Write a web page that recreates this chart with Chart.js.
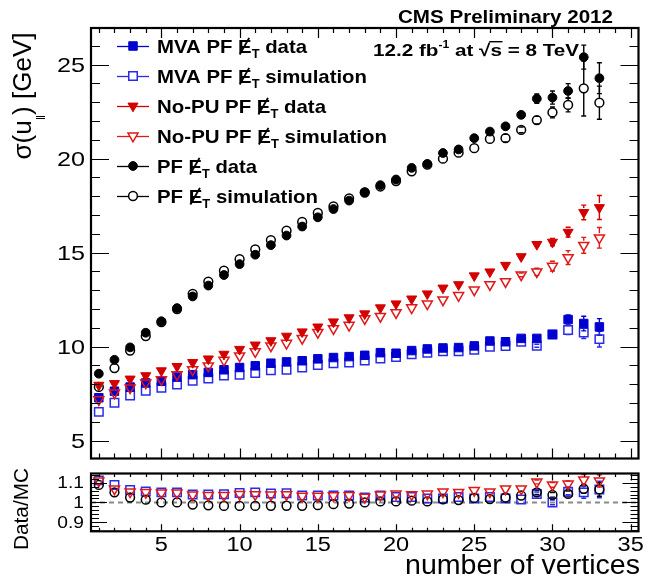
<!DOCTYPE html>
<html><head><meta charset="utf-8">
<script src="https://cdn.jsdelivr.net/npm/chart.js@4/dist/chart.umd.min.js"></script>
<style>
html,body{margin:0;padding:0;background:#fff;}
#wrap{position:relative;width:646px;height:582px;background:#fff;}
canvas{position:absolute;left:0;}
</style></head><body>
<div id="wrap">
<canvas id="main" width="646" height="466" style="top:0px"></canvas>
<canvas id="ratio" width="646" height="116" style="top:466px"></canvas>
</div>
<script>
// ---------------- DATA ----------------
const vertices = [1,2,3,4,5,6,7,8,9,10,11,12,13,14,15,16,17,18,19,20,21,22,23,24,25,26,27,28,29,30,31,32,33];

const mvaData = [7.28,7.63,7.85,8.07,8.16,8.38,8.51,8.63,8.77,8.89,8.98,9.12,9.19,9.25,9.35,9.42,9.47,9.54,9.68,9.65,9.79,9.88,9.93,9.95,10.04,10.30,10.26,10.44,10.44,10.65,11.44,11.23,11.05];
const mvaSim  = [6.53,7.02,7.40,7.65,7.81,7.98,8.19,8.30,8.46,8.51,8.60,8.74,8.77,8.89,9.02,9.11,9.16,9.26,9.37,9.45,9.60,9.68,9.75,9.75,9.84,10.00,10.04,10.26,10.05,10.65,10.88,10.75,10.40];
const nopuData = [7.95,8.04,8.28,8.46,8.72,8.95,9.16,9.35,9.60,9.86,10.09,10.32,10.56,10.79,11.05,11.32,11.54,11.75,12.07,12.28,12.54,12.81,13.12,13.30,13.77,13.98,14.33,14.79,15.44,15.56,16.09,17.14,17.40];
const nopuSim  = [7.18,7.54,7.81,8.07,8.25,8.51,8.77,8.98,9.28,9.51,9.74,10.04,10.18,10.44,10.76,10.96,11.14,11.49,11.61,11.81,12.07,12.28,12.49,12.72,13.02,13.30,13.46,13.82,13.98,14.28,14.74,15.39,15.79];
const pfData = [8.56,9.30,9.96,10.74,11.35,12.05,12.67,13.25,13.81,14.39,14.89,15.40,15.91,16.39,16.88,17.32,17.77,18.21,18.59,18.89,19.51,19.72,20.30,20.49,21.09,21.44,21.72,22.33,23.19,23.25,23.60,25.40,24.28];
const pfSim  = [7.86,8.86,9.79,10.56,11.30,12.00,12.81,13.46,14.04,14.65,15.17,15.67,16.17,16.63,17.11,17.46,17.89,18.20,18.52,18.81,19.33,19.68,20.00,20.32,20.56,21.05,21.09,21.53,22.05,22.46,22.86,23.74,22.98];

// statistical uncertainties (only visible at high vertex counts)
const mvaDataErr  = [0,0,0,0,0,0,0,0,0,0,0,0,0,0,0,0,0,0,0,0,0,0,0,0,0,0,0,0,0.08,0.12,0.24,0.39,0.44];
const mvaSimErr   = [0,0,0,0,0,0,0,0,0,0,0,0,0,0,0,0,0,0,0,0,0,0,0,0,0,0,0,0,0.08,0.12,0.24,0.32,0.42];
const nopuDataErr = [0,0,0,0,0,0,0,0,0,0,0,0,0,0,0,0,0,0,0,0,0,0,0,0,0,0,0,0.08,0.10,0.19,0.26,0.39,0.64];
const nopuSimErr  = [0,0,0,0,0,0,0,0,0,0,0,0,0,0,0,0,0,0,0,0,0,0,0,0,0,0,0,0.10,0.19,0.26,0.37,0.42,0.55];
const pfDataErr   = [0,0,0,0,0,0,0,0,0,0,0,0,0,0,0,0,0,0,0,0,0,0,0,0,0,0,0.10,0.12,0.25,0.35,0.39,0.64,0.82];
const pfSimErr    = [0,0,0,0,0,0,0,0,0,0,0,0,0,0,0,0,0,0,0,0,0,0,0,0,0,0,0.20,0.15,0.20,0.29,0.37,1.47,0.88];

// Data/MC ratios
const ratioMva  = [1.112,1.089,1.063,1.055,1.051,1.051,1.040,1.040,1.041,1.048,1.051,1.045,1.046,1.035,1.035,1.035,1.035,1.025,1.035,1.028,1.028,1.020,1.020,1.028,1.020,1.028,1.020,1.015,1.043,1.000,1.054,1.051,1.066];
const ratioNopu = [1.109,1.069,1.054,1.051,1.048,1.048,1.038,1.035,1.035,1.041,1.040,1.038,1.040,1.032,1.032,1.034,1.035,1.027,1.038,1.043,1.040,1.043,1.054,1.051,1.061,1.054,1.069,1.069,1.104,1.089,1.094,1.115,1.109];
const ratioPf   = [1.089,1.051,1.025,1.014,1.000,1.000,0.989,0.985,0.982,0.982,0.982,0.983,0.983,0.983,0.986,0.991,0.994,1.000,1.005,1.005,1.009,1.005,1.015,1.012,1.023,1.017,1.025,1.035,1.051,1.038,1.043,1.069,1.066];
const ratioMvaErr  = [0,0,0,0,0,0,0,0,0,0,0,0,0,0,0,0,0,0,0,0,0,0,0,0,0,0,0,0,0.01,0.012,0.015,0.030,0.042];
const ratioNopuErr = [0,0,0,0,0,0,0,0,0,0,0,0,0,0,0,0,0,0,0,0,0,0,0,0,0,0,0,0,0.01,0.012,0.015,0.027,0.031];
const ratioPfErr   = [0,0,0,0,0,0,0,0,0,0,0,0,0,0,0,0,0,0,0,0,0,0,0,0,0,0,0,0,0.01,0.012,0.015,0.023,0.035];

const yTickLabels = [5,10,15,20,25];
const xTickLabels = [5,10,15,20,25,30,35];
const ratioTickLabels = [0.9,1,1.1];
const legendNames = [
  ['MVA PF ', ' data'],
  ['MVA PF ', ' simulation'],
  ['No-PU PF ', ' data'],
  ['No-PU PF ', ' simulation'],
  ['PF ', ' data'],
  ['PF ', ' simulation']
];
const xTitle = 'number of vertices';
const ratioTitle = 'Data/MC';
const cmsLabel = 'CMS Preliminary 2012';

// ---------------- STYLE ----------------
const F = '"Liberation Sans", Arimo, Arial, Helvetica, sans-serif';
const BLUE = '#0000d0', BLUE_O = '#2a2ae8', RED = '#d40000', RED_O = '#e01818', BLACK = '#000';

const styles = [
  {color:BLUE, ec:BLUE, ps:'rect', rot:0, r:6.0, filled:true, gap:4.5},
  {color:BLUE_O, ec:BLUE_O, ps:'rect', rot:0, r:6.0, filled:false, gap:4.5},
  {color:RED, ec:RED, ps:'triangle', rot:180, r:5.8, filled:true, gap:4.5},
  {color:RED_O, ec:RED_O, ps:'triangle', rot:180, r:5.8, filled:false, gap:4.5},
  {color:BLACK, ec:BLACK, ps:'circle', rot:0, r:4.4, filled:true, gap:4.4},
  {color:BLACK, ec:BLACK, ps:'circle', rot:0, r:4.4, filled:false, gap:4.4}
];

function pts(ys){ return vertices.map((x,i)=>({x:x, y:ys[i]})); }
function mkDs(label, ys, errs, st, order){
  return {
    label, data: pts(ys), errs, errColor: st.ec, gap: st.gap,
    showLine:false, order,
    pointStyle: st.ps, rotation: st.rot, pointRadius: st.r, pointHoverRadius: st.r,
    backgroundColor: st.filled ? st.color : 'rgba(0,0,0,0)',
    borderColor: st.color, borderWidth: st.filled ? 1 : 1.5
  };
}

// ---------------- HELPERS ----------------
function richDraw(ctx, parts, x, y, o){
  let W = 0;
  for (const p of parts){ ctx.font = p.f; p.w = ctx.measureText(p.t).width; W += p.w; }
  const sx = o.width ? o.width / W : (o.sx || 1);
  ctx.save();
  ctx.translate(x, y);
  if (o.rot) ctx.rotate(o.rot);
  ctx.scale(sx, o.sy || 1);
  let cx = o.align === 'right' ? -W : (o.align === 'center' ? -W/2 : 0);
  ctx.textAlign = 'left'; ctx.textBaseline = 'alphabetic';
  ctx.fillStyle = o.color || '#000'; ctx.strokeStyle = o.color || '#000';
  for (const p of parts){
    ctx.font = p.f;
    ctx.fillText(p.t, cx, p.dy || 0);
    if (p.slash){
      ctx.lineWidth = 1.7;
      ctx.beginPath();
      ctx.moveTo(cx + 0.12*p.w, 1.5);
      ctx.lineTo(cx + 0.82*p.w, -p.cap - 1.5);
      ctx.stroke();
    }
    if (p.over){
      ctx.lineWidth = 1.4;
      ctx.beginPath();
      ctx.moveTo(cx - 1, -p.cap - 1);
      ctx.lineTo(cx + p.w + 0.5, -p.cap - 1);
      ctx.stroke();
    }
    cx += p.w;
  }
  ctx.restore();
}

function drawFrameTicks(ctx, area, xs, ys, xMinor, xMajorEvery, yVals, yMajorTest, lens){
  ctx.save();
  ctx.strokeStyle = '#000';
  ctx.lineWidth = 1.2;
  ctx.beginPath();
  for (const v of xMinor){
    const px = Math.round(xs.getPixelForValue(v)) + 0.5;
    const L = (v % xMajorEvery === 0) ? lens.xMaj : lens.xMin;
    ctx.moveTo(px, area.bottom); ctx.lineTo(px, area.bottom - L);
    ctx.moveTo(px, area.top); ctx.lineTo(px, area.top + L);
  }
  for (const v of yVals){
    const py = Math.round(ys.getPixelForValue(v)) + 0.5;
    const L = yMajorTest(v) ? lens.yMaj : lens.yMin;
    ctx.moveTo(area.left, py); ctx.lineTo(area.left + L, py);
    ctx.moveTo(area.right, py); ctx.lineTo(area.right - L, py);
  }
  ctx.stroke();
  ctx.lineWidth = 2.2;
  ctx.strokeRect(area.left, area.top, area.right - area.left, area.bottom - area.top);
  ctx.restore();
}

const errPlugin = {
  id: 'errbars',
  beforeDatasetsDraw(chart){
    const ctx = chart.ctx, ys = chart.scales.y;
    chart.data.datasets.forEach((d, di)=>{
      if (!d.errs) return;
      const meta = chart.getDatasetMeta(di);
      ctx.save();
      ctx.strokeStyle = d.errColor; ctx.lineWidth = 1.4;
      meta.data.forEach((pt, i)=>{
        const e = d.errs[i]; if (!e) return;
        const v = d.data[i].y;
        const y1 = ys.getPixelForValue(v + e), y2 = ys.getPixelForValue(v - e);
        const x = pt.x, r = d.gap;
        ctx.beginPath();
        if (pt.y - r > y1){ ctx.moveTo(x, pt.y - r); ctx.lineTo(x, y1); }
        if (pt.y + r < y2){ ctx.moveTo(x, pt.y + r); ctx.lineTo(x, y2); }
        ctx.moveTo(x - 2.5, y1); ctx.lineTo(x + 2.5, y1);
        ctx.moveTo(x - 2.5, y2); ctx.lineTo(x + 2.5, y2);
        ctx.stroke();
      });
      ctx.restore();
    });
  }
};

const minorX = []; for (let k = 1; k <= 35; k++) minorX.push(k);

// ---------------- MAIN CHART ----------------
const mainDecor = {
  id: 'mainDecor',
  afterDatasetsDraw(chart){
    const ctx = chart.ctx, a = chart.chartArea, xs = chart.scales.x, ys = chart.scales.y;
    const yv = []; for (let k = 5; k <= 26; k++) yv.push(k);
    drawFrameTicks(ctx, a, xs, ys, minorX, 5, yv, v => v % 5 === 0, {xMaj:10, xMin:5, yMaj:18, yMin:9});
  },
  afterDraw(chart){
    const ctx = chart.ctx, ys = chart.scales.y;
    // y tick labels
    for (const v of yTickLabels){
      const py = ys.getPixelForValue(v);
      richDraw(ctx, [{t:String(v), f:'21px ' + F}], 85, py + 7.5, {align:'right', sx:1.2});
    }
    // y title  sigma(u_||) [GeV]
    richDraw(ctx, [
      {t:'σ(u', f:'26px ' + F},
      {t:'‖', f:'13px ' + F, dy:14},
      {t:') [GeV]', f:'26px ' + F}
    ], 31, 96, {align:'center', rot:-Math.PI/2, width:127});
    // CMS label
    richDraw(ctx, [{t:cmsLabel, f:'bold 18px ' + F}], 398, 22.5, {width:215});
    // lumi label
    richDraw(ctx, [
      {t:'12.2 fb', f:'bold 17px ' + F},
      {t:'-1', f:'bold 10px ' + F, dy:-7.5},
      {t:' at ', f:'bold 17px ' + F},
      {t:'√', f:'bold 17px ' + F},
      {t:'s', f:'bold 17px ' + F, over:true, cap:13},
      {t:' = 8 TeV', f:'bold 17px ' + F}
    ], 373, 55.7, {width:206});
    // legend
    const lw = [150, 210, 169, 230, 100, 161];
    const ly = [46, 76, 106, 136, 166, 196];
    for (let i = 0; i < 6; i++){
      const st = styles[i];
      ctx.save();
      ctx.strokeStyle = st.color; ctx.lineWidth = 1.3;
      ctx.beginPath(); ctx.moveTo(117, ly[i] + 0.5); ctx.lineTo(149, ly[i] + 0.5); ctx.stroke();
      ctx.fillStyle = st.filled ? st.color : '#fff';
      ctx.strokeStyle = st.color; ctx.lineWidth = st.filled ? 1 : 1.5;
      Chart.helpers.drawPoint(ctx, {pointStyle: st.ps, rotation: st.rot, radius: st.r, borderWidth: st.filled ? 1 : 1.5}, 133, ly[i]);
      ctx.restore();
      richDraw(ctx, [
        {t:legendNames[i][0], f:'bold 19px ' + F},
        {t:'E', f:'bold 19px ' + F, slash:true, cap:13.6},
        {t:'T', f:'bold 12px ' + F, dy:5},
        {t:legendNames[i][1], f:'bold 19px ' + F}
      ], 157, ly[i] + 7, {width: lw[i]});
    }
  }
};

new Chart(document.getElementById('main'), {
  type: 'scatter',
  data: { datasets: [
    mkDs('MVA PF MET data', mvaData, mvaDataErr, styles[0], 5),
    mkDs('MVA PF MET simulation', mvaSim, mvaSimErr, styles[1], 6),
    mkDs('No-PU PF MET data', nopuData, nopuDataErr, styles[2], 1),
    mkDs('No-PU PF MET simulation', nopuSim, nopuSimErr, styles[3], 2),
    mkDs('PF MET data', pfData, pfDataErr, styles[4], 3),
    mkDs('PF MET simulation', pfSim, pfSimErr, styles[5], 4)
  ]},
  options: {
    responsive:false, animation:false, devicePixelRatio:1, events:[],
    layout:{padding:{left:91, right:6, top:28, bottom:3}},
    plugins:{legend:{display:false}, tooltip:{enabled:false}},
    scales:{
      x:{type:'linear', min:0.5, max:35.5, display:false},
      y:{type:'linear', min:4.05, max:26.95, display:false}
    }
  },
  plugins:[errPlugin, mainDecor]
});

// ---------------- RATIO CHART ----------------
const ratioDecor = {
  id:'ratioDecor',
  beforeDatasetsDraw(chart){
    const ctx = chart.ctx, a = chart.chartArea, ys = chart.scales.y;
    const py = ys.getPixelForValue(1);
    ctx.save();
    ctx.strokeStyle = '#8a8a8a'; ctx.lineWidth = 2; ctx.setLineDash([5,4]);
    ctx.beginPath(); ctx.moveTo(a.left, py); ctx.lineTo(a.right, py); ctx.stroke();
    ctx.restore();
  },
  afterDatasetsDraw(chart){
    const ctx = chart.ctx, a = chart.chartArea, xs = chart.scales.x, ys = chart.scales.y;
    const yv = []; for (let k = 43; k <= 57; k++) yv.push(k);
    drawFrameTicks(ctx, a, xs, {getPixelForValue: v => ys.getPixelForValue(v * 0.02)}, minorX, 5, yv, k => k % 5 === 0, {xMaj:7, xMin:3.5, yMaj:16, yMin:8});
  },
  afterDraw(chart){
    const ctx = chart.ctx, xs = chart.scales.x, ys = chart.scales.y;
    for (const v of ratioTickLabels){
      richDraw(ctx, [{t:String(v), f:'16px ' + F}], 84, ys.getPixelForValue(v) + 5.7, {align:'right', sx:1.2});
    }
    for (const v of xTickLabels){
      richDraw(ctx, [{t:String(v), f:'20px ' + F}], xs.getPixelForValue(v), 85.3, {align:'center', sx:1.18});
    }
    richDraw(ctx, [{t:xTitle, f:'28px ' + F}], 640, 108, {align:'right', width:235});
    richDraw(ctx, [{t:ratioTitle, f:'21px ' + F}], 28, 43, {align:'center', rot:-Math.PI/2, width:82});
  }
};

new Chart(document.getElementById('ratio'), {
  type:'scatter',
  data:{ datasets:[
    mkDs('MVA PF MET Data/MC', ratioMva, ratioMvaErr, styles[1], 3),
    mkDs('No-PU PF MET Data/MC', ratioNopu, ratioNopuErr, styles[3], 1),
    mkDs('PF MET Data/MC', ratioPf, ratioPfErr, styles[5], 2)
  ]},
  options:{
    responsive:false, animation:false, devicePixelRatio:1, events:[],
    layout:{padding:{left:91, right:6, top:2, bottom:50.7}},
    plugins:{legend:{display:false}, tooltip:{enabled:false}},
    scales:{
      x:{type:'linear', min:0.5, max:35.5, display:false},
      y:{type:'linear', min:0.853, max:1.147, display:false}
    }
  },
  plugins:[errPlugin, ratioDecor]
});
</script>
</body></html>
